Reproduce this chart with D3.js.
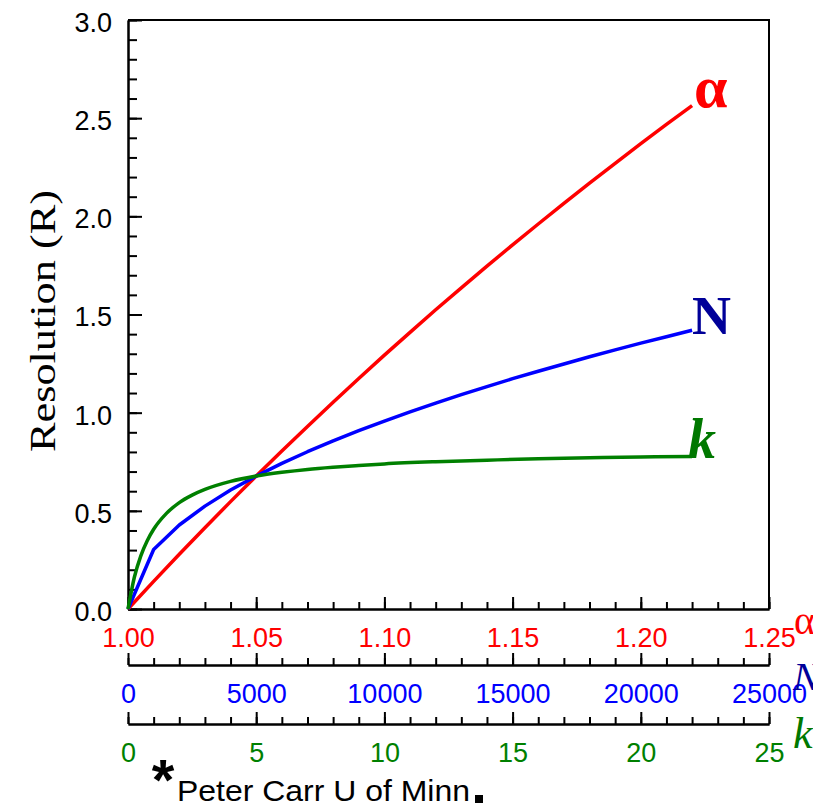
<!DOCTYPE html>
<html>
<head>
<meta charset="utf-8">
<script src="https://cdn.jsdelivr.net/npm/d3@7"></script>
<style>
  body { margin: 0; background: #fff; }
  svg { display: block; }
</style>
</head>
<body>
<div class="chart"></div>
<script>
// values
const alphaValues = [1.00, 1.01, 1.02, 1.03, 1.04, 1.05, 1.06, 1.07, 1.08, 1.09, 1.10, 1.11,
  1.12, 1.13, 1.14, 1.15, 1.16, 1.17, 1.18, 1.19, 1.20, 1.21, 1.22]
const alphaRes = [0, 0.141, 0.279, 0.414, 0.547, 0.677, 0.805, 0.930, 1.053, 1.174, 1.293, 1.409,
  1.524, 1.636, 1.746, 1.855, 1.961, 2.066, 2.169, 2.270, 2.370, 2.468, 2.564]

const nValues = [0, 1000, 2000, 3000, 4000, 5000, 6000, 7000, 8000, 9000, 10000, 11000,
  12000, 13000, 14000, 15000, 16000, 17000, 18000, 19000, 20000, 21000, 22000]
const nRes = [0, 0.303, 0.428, 0.524, 0.606, 0.677, 0.742, 0.801, 0.856, 0.908, 0.957, 1.004,
  1.049, 1.092, 1.133, 1.173, 1.211, 1.248, 1.285, 1.320, 1.354, 1.387, 1.420]

const kValues = [0, 0.25, 0.5, 0.75, 1, 1.5, 2, 2.5, 3, 4, 5, 6, 7, 8, 9, 10, 12, 14, 16, 18, 20, 22]
const kRes = [0, 0.163, 0.271, 0.348, 0.406, 0.487, 0.542, 0.580, 0.609, 0.650, 0.677, 0.696,
  0.711, 0.722, 0.731, 0.739, 0.750, 0.758, 0.765, 0.770, 0.774, 0.777]

const yTicks = [0, 0.5, 1.0, 1.5, 2.0, 2.5, 3.0]
const alphaTicks = [1.00, 1.05, 1.10, 1.15, 1.20, 1.25]
const nTicks = [0, 5000, 10000, 15000, 20000, 25000]
const kTicks = [0, 5, 10, 15, 20, 25]

const W = 813, H = 804
const plotLeft = 128, plotRight = 769, plotTop = 20, plotBottom = 609

const svg = d3.select('.chart')
  .append('svg')
    .attr('width', W)
    .attr('height', H)

const y = d3.scaleLinear().domain([0, 3]).range([plotBottom, plotTop])
const xAlpha = d3.scaleLinear().domain([1, 1.25]).range([plotLeft, plotRight])
const xN = d3.scaleLinear().domain([0, 25000]).range([plotLeft, plotRight])
const xK = d3.scaleLinear().domain([0, 25]).range([plotLeft, plotRight])

const tickFont = 'Liberation Sans, Arial, sans-serif'

//frame top + right
svg.append('path')
  .attr('d', `M${plotLeft},${plotTop}H${plotRight}V${plotBottom}`)
  .attr('fill', 'none')
  .attr('stroke', 'black')
  .attr('stroke-width', 2)

//y axis
svg.append('g')
    .attr('transform', `translate(${plotLeft},0)`)
  .call(d3.axisLeft(y).tickValues(d3.range(0, 3.001, 0.1)).tickSize(-9).tickSizeOuter(0).tickFormat(''))
const yAxis = svg.append('g')
    .attr('transform', `translate(${plotLeft},0)`)
  .call(d3.axisLeft(y).tickValues(yTicks).tickSize(-14).tickSizeOuter(0)
    .tickPadding(16).tickFormat(d3.format('.1f')))
yAxis.selectAll('text')
  .attr('dy', '0.42em')
  .style('font', `27px ${tickFont}`)
  .attr('fill', 'black')

//bottom axes, each with minor ticks
const bottomAxis = (scale, ticks, yPos, minorStep, fmt, color) => {
  const [d0, d1] = scale.domain()
  svg.append('g')
      .attr('transform', `translate(0,${yPos})`)
    .call(d3.axisBottom(scale).tickValues(d3.range(d0, d1 + minorStep / 2, minorStep))
      .tickSize(-7).tickSizeOuter(0).tickFormat(''))
  const g = svg.append('g')
      .attr('transform', `translate(0,${yPos})`)
    .call(d3.axisBottom(scale).tickValues(ticks).tickSize(-12).tickSizeOuter(0)
      .tickPadding(19).tickFormat(fmt))
  g.selectAll('text')
    .style('font', `27px ${tickFont}`)
    .attr('fill', color)
}
bottomAxis(xAlpha, alphaTicks, plotBottom, 0.01, d3.format('.2f'), '#ff0000')
bottomAxis(xN, nTicks, 665, 1000, d3.format('d'), '#0000ff')
bottomAxis(xK, kTicks, 724, 1, d3.format('d'), '#008000')

svg.selectAll('.domain, .tick line')
  .attr('stroke', 'black')
  .attr('stroke-width', 2)

//curves
const series = [
  { xs: alphaValues, ys: alphaRes, x: xAlpha, color: '#ff0000', curve: d3.curveLinear },
  { xs: nValues, ys: nRes, x: xN, color: '#0000ff', curve: d3.curveLinear },
  { xs: kValues, ys: kRes, x: xK, color: '#008000', curve: d3.curveMonotoneX }
]
series.forEach((s) => {
  const line = d3.line()
    .x((d, i) => s.x(s.xs[i]))
    .y((d) => y(d))
    .curve(s.curve)
  svg.append('path')
    .attr('d', line(s.ys))
    .attr('fill', 'none')
    .attr('stroke', s.color)
    .attr('stroke-width', 3.5)
    .attr('stroke-linejoin', 'round')
})

//curve labels
const serif = 'Liberation Serif, Times New Roman, serif'
svg.append('text')
  .attr('x', 694).attr('y', 107)
  .style('font', `bold 60px ${serif}`)
  .attr('fill', '#ff0000')
  .text('α')
svg.append('text')
  .attr('x', 692).attr('y', 334)
  .style('font', `bold 54px ${serif}`)
  .attr('fill', '#000099')
  .text('N')
svg.append('text')
  .attr('x', 688).attr('y', 458)
  .style('font', `italic bold 56px ${serif}`)
  .attr('fill', '#007800')
  .text('k')

//axis names at right edge (cut off)
svg.append('text')
  .attr('x', 794).attr('y', 634)
  .style('font', `40px ${serif}`)
  .attr('fill', '#ff0000')
  .text('α')
svg.append('text')
  .attr('x', 793).attr('y', 690)
  .style('font', `italic 40px ${serif}`)
  .attr('fill', '#000099')
  .text('N')
svg.append('text')
  .attr('x', 793).attr('y', 748)
  .style('font', `italic 44px ${serif}`)
  .attr('fill', '#007800')
  .text('k')

//y title
svg.append('text')
  .attr('transform', 'translate(55,321) rotate(-90)')
  .attr('text-anchor', 'middle')
  .attr('textLength', 262)
  .attr('lengthAdjust', 'spacingAndGlyphs')
  .style('font', `36px ${serif}`)
  .text('Resolution (R)')

//credit
svg.append('text')
  .attr('x', 163).attr('y', 800)
  .attr('text-anchor', 'middle')
  .style('font', `bold 58px ${tickFont}`)
  .text('*')
svg.append('text')
  .attr('x', 177).attr('y', 801)
  .attr('textLength', 293)
  .attr('lengthAdjust', 'spacingAndGlyphs')
  .style('font', `29px ${tickFont}`)
  .text('Peter Carr U of Minn')
svg.append('rect')
  .attr('x', 475).attr('y', 795)
  .attr('width', 8).attr('height', 8)
  .attr('fill', 'black')
</script>
</body>
</html>
